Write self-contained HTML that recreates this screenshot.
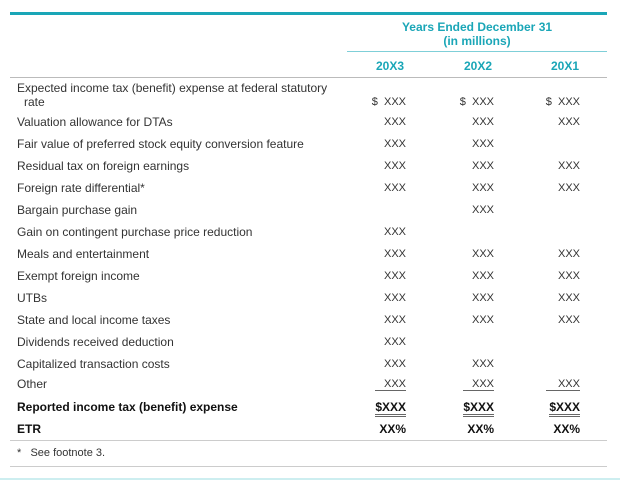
<!DOCTYPE html>
<html><head><style>
body{margin:0;width:620px;height:480px;background:#fff;position:relative;font-family:"Liberation Sans",sans-serif;font-size:11px;color:#333;overflow:hidden}
.a{position:absolute;white-space:nowrap;line-height:13px}
.l{left:17px;font-size:12px}
.v{text-align:right;width:60px}
.c1{left:346px}.c2{left:434px}.c3{left:520px}
.h{color:#1aa6b7;font-weight:bold;text-align:center;font-size:12px}
.b{font-weight:bold;color:#111}
.u{border-bottom:1px solid #666}
.dd{border-bottom:3px double #666}
</style></head><body>
<div style="position:absolute;left:10px;top:12px;width:597px;height:3px;background:#1aa6b7"></div>
<div class="a h" style="left:347px;width:260px;top:21px">Years Ended December 31</div>
<div class="a h" style="left:347px;width:260px;top:35px">(in millions)</div>
<div style="position:absolute;left:347px;top:51px;width:260px;height:1px;background:#7fcfd8"></div>
<div class="a h" style="left:360px;width:60px;top:60px">20X3</div>
<div class="a h" style="left:448px;width:60px;top:60px">20X2</div>
<div class="a h" style="left:535px;width:60px;top:60px">20X1</div>
<div style="position:absolute;left:10px;top:77px;width:597px;height:1px;background:#bbb"></div>

<div class="a l" style="top:82px">Expected income tax (benefit) expense at federal statutory</div>
<div class="a l" style="top:96px;left:24px">rate</div>
<div class="a v c1" style="top:96px">$&nbsp; XXX</div><div class="a v c2" style="top:96px">$&nbsp; XXX</div><div class="a v c3" style="top:96px">$&nbsp; XXX</div>

<div class="a l" style="top:116px">Valuation allowance for DTAs</div>
<div class="a v c1" style="top:116px">XXX</div><div class="a v c2" style="top:116px">XXX</div><div class="a v c3" style="top:116px">XXX</div>

<div class="a l" style="top:138px">Fair value of preferred stock equity conversion feature</div>
<div class="a v c1" style="top:138px">XXX</div><div class="a v c2" style="top:138px">XXX</div>

<div class="a l" style="top:160px">Residual tax on foreign earnings</div>
<div class="a v c1" style="top:160px">XXX</div><div class="a v c2" style="top:160px">XXX</div><div class="a v c3" style="top:160px">XXX</div>

<div class="a l" style="top:182px">Foreign rate differential*</div>
<div class="a v c1" style="top:182px">XXX</div><div class="a v c2" style="top:182px">XXX</div><div class="a v c3" style="top:182px">XXX</div>

<div class="a l" style="top:204px">Bargain purchase gain</div>
<div class="a v c2" style="top:204px">XXX</div>

<div class="a l" style="top:226px">Gain on contingent purchase price reduction</div>
<div class="a v c1" style="top:226px">XXX</div>

<div class="a l" style="top:248px">Meals and entertainment</div>
<div class="a v c1" style="top:248px">XXX</div><div class="a v c2" style="top:248px">XXX</div><div class="a v c3" style="top:248px">XXX</div>

<div class="a l" style="top:270px">Exempt foreign income</div>
<div class="a v c1" style="top:270px">XXX</div><div class="a v c2" style="top:270px">XXX</div><div class="a v c3" style="top:270px">XXX</div>

<div class="a l" style="top:292px">UTBs</div>
<div class="a v c1" style="top:292px">XXX</div><div class="a v c2" style="top:292px">XXX</div><div class="a v c3" style="top:292px">XXX</div>

<div class="a l" style="top:314px">State and local income taxes</div>
<div class="a v c1" style="top:314px">XXX</div><div class="a v c2" style="top:314px">XXX</div><div class="a v c3" style="top:314px">XXX</div>

<div class="a l" style="top:336px">Dividends received deduction</div>
<div class="a v c1" style="top:336px">XXX</div>

<div class="a l" style="top:358px">Capitalized transaction costs</div>
<div class="a v c1" style="top:358px">XXX</div><div class="a v c2" style="top:358px">XXX</div>

<div class="a l" style="top:378px">Other</div>
<div class="a v c1" style="top:378px"><span class="u">&nbsp;&nbsp;&nbsp;XXX</span></div><div class="a v c2" style="top:378px"><span class="u">&nbsp;&nbsp;&nbsp;XXX</span></div><div class="a v c3" style="top:378px"><span class="u">&nbsp;&nbsp;&nbsp;&nbsp;XXX</span></div>

<div class="a l b" style="top:401px">Reported income tax (benefit) expense</div>
<div class="a v c1 b" style="top:401px;font-size:12px"><span class="dd">$XXX</span></div><div class="a v c2 b" style="top:401px;font-size:12px"><span class="dd">$XXX</span></div><div class="a v c3 b" style="top:401px;font-size:12px"><span class="dd">$XXX</span></div>

<div class="a l b" style="top:423px">ETR</div>
<div class="a v c1 b" style="top:423px;font-size:12px">XX%</div><div class="a v c2 b" style="top:423px;font-size:12px">XX%</div><div class="a v c3 b" style="top:423px;font-size:12px">XX%</div>

<div style="position:absolute;left:10px;top:440px;width:597px;height:1px;background:#ccc"></div>
<div class="a" style="left:17px;top:447px;font-size:11px">*&nbsp;&nbsp;&nbsp;See footnote 3.</div>
<div style="position:absolute;left:10px;top:466px;width:597px;height:1px;background:#ccc"></div>
<div style="position:absolute;left:0;top:478px;width:620px;height:2px;background:#cdeef0"></div>
</body></html>
